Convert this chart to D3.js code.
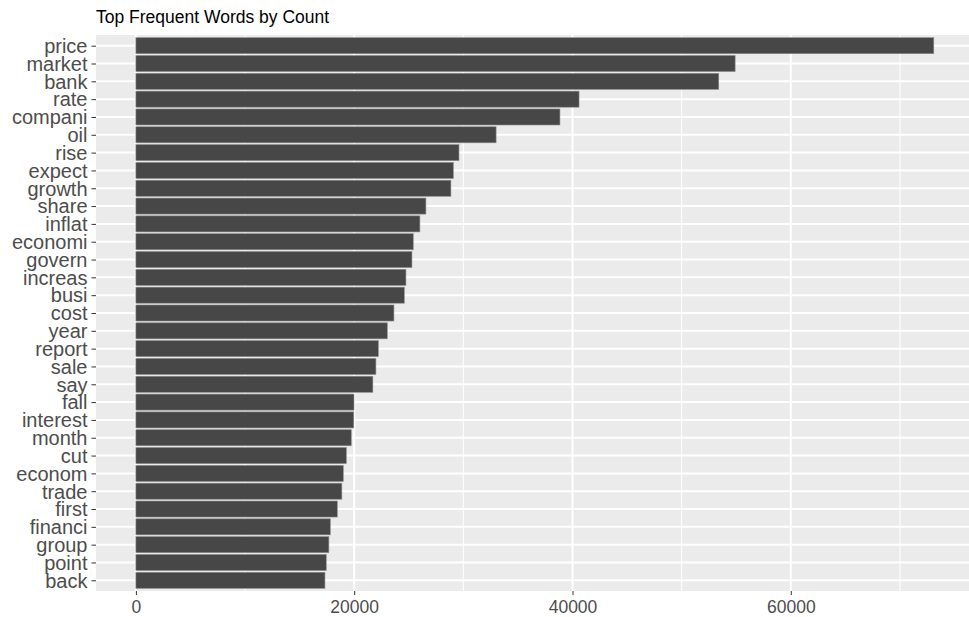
<!DOCTYPE html>
<html>
<head>
<meta charset="utf-8">
<script src="https://cdn.jsdelivr.net/npm/d3@7"></script>
<style>
  html, body { margin: 0; padding: 0; background: #fff; }
  svg { display: block; }
  text { font-family: "Liberation Sans", Arial, Helvetica, sans-serif; }
</style>
</head>
<body>
<script>
// ---- Data ----
const words = ["price","market","bank","rate","compani","oil","rise","expect","growth","share",
  "inflat","economi","govern","increas","busi","cost","year","report","sale","say",
  "fall","interest","month","cut","econom","trade","first","financi","group","point","back"];
const counts = [73100,54900,53400,40600,38850,33000,29600,29080,28860,26570,
  26020,25410,25290,24740,24590,23640,23030,22210,21990,21710,
  19980,19960,19730,19280,19000,18870,18450,17810,17680,17440,17320];
const majorTicks = [0,20000,40000,60000];
const minorTicks = [10000,30000,50000,70000];
const title = "Top Frequent Words by Count";

// ---- Layout ----
const width = 969, height = 617;
const margin = {left: 96, top: 35};
const panelH = 556;
const maxV = d3.max(counts);
const lo = -0.05 * maxV, hi = 1.05 * maxV;
const pxPerUnit = 218.3 / 20000;
const panelW = (hi - lo) * pxPerUnit;

const svg = d3.select("body").append("svg")
  .attr("width", width).attr("height", height);

const g = svg.append("g").attr("transform", `translate(${margin.left},${margin.top})`);

const x = d3.scaleLinear().domain([lo, hi]).range([0, panelW]);
const y = d3.scalePoint().domain(words).range([0, panelH]).padding(0.6);
const step = y.step();
const barH = step * 0.9;

// panel background
g.append("rect").attr("x", 0).attr("y", 0).attr("width", panelW).attr("height", panelH)
  .attr("fill", "#EBEBEB");

// minor vertical grid
g.selectAll(".minor").data(minorTicks).join("line")
  .attr("x1", d => x(d)).attr("x2", d => x(d))
  .attr("y1", 0).attr("y2", panelH)
  .attr("stroke", "#fff").attr("stroke-width", 1);

// major vertical grid
g.selectAll(".majorx").data(majorTicks).join("line")
  .attr("x1", d => x(d)).attr("x2", d => x(d))
  .attr("y1", 0).attr("y2", panelH)
  .attr("stroke", "#fff").attr("stroke-width", 2);

// major horizontal grid
g.selectAll(".majory").data(words).join("line")
  .attr("x1", 0).attr("x2", panelW)
  .attr("y1", d => y(d)).attr("y2", d => y(d))
  .attr("stroke", "#fff").attr("stroke-width", 2);

// bars
g.selectAll(".bar").data(words).join("rect")
  .attr("x", x(0))
  .attr("y", d => y(d) - barH / 2)
  .attr("width", (d, i) => x(counts[i]) - x(0))
  .attr("height", barH)
  .attr("fill", "#474747")
  .attr("stroke", "#8c8c8c")
  .attr("stroke-width", 0.6);

// y axis
const yAxis = g.append("g").call(d3.axisLeft(y).tickSize(4.5).tickPadding(4));
yAxis.select(".domain").remove();
yAxis.selectAll(".tick line").attr("stroke", "#333").attr("stroke-width", 1);
yAxis.selectAll(".tick text").attr("fill", "#4D4D4D").style("font-size", "20px")
  .attr("dy", "0.34em");

// x axis
const xAxis = g.append("g").attr("transform", `translate(0,${panelH})`)
  .call(d3.axisBottom(x).tickValues(majorTicks).tickFormat(d3.format("d")).tickSize(4).tickPadding(6));
xAxis.select(".domain").remove();
xAxis.selectAll(".tick line").attr("stroke", "#333").attr("stroke-width", 1);
xAxis.selectAll(".tick text").attr("fill", "#4D4D4D").style("font-size", "17.5px");

// title
svg.append("text").attr("x", 96).attr("y", 23)
  .attr("fill", "#000").style("font-size", "17.5px")
  .text(title);
</script>
</body>
</html>
